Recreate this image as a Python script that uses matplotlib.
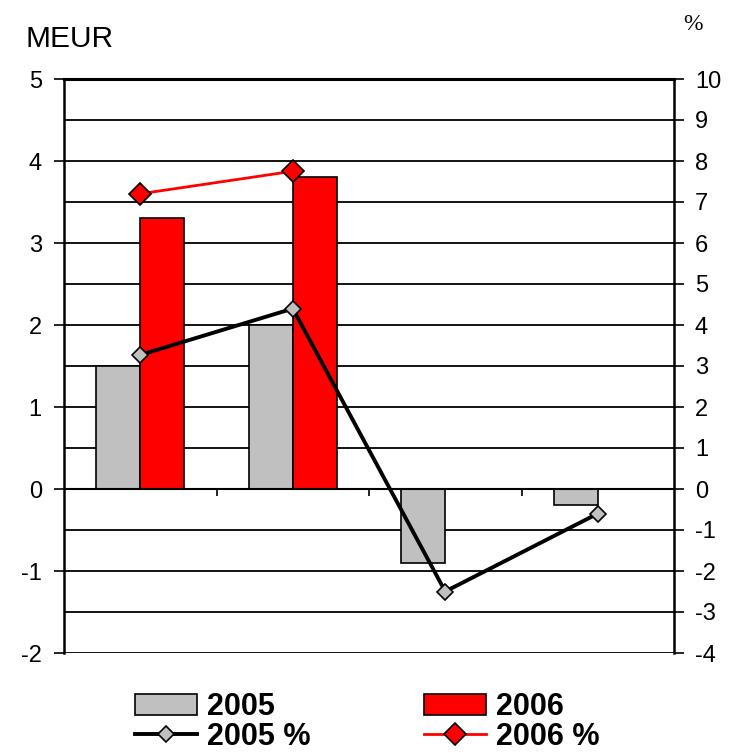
import matplotlib
matplotlib.use("Agg")
import matplotlib.pyplot as plt
import numpy as np

plt.rcParams['font.family'] = ['Liberation Sans', 'DejaVu Sans']
plt.rcParams['axes.unicode_minus'] = False

categories = ["Q1", "Q2", "Q3", "Q4"]
meur_2005 = [1.5, 2.0, -0.9, -0.2]
meur_2006 = [3.3, 3.8, 0.0, 0.0]
pct_2005 = [3.27, 4.4, -2.5, -0.6]
pct_2006 = [7.2, 7.75]
left_ticks = [5, 4, 3, 2, 1, 0, -1, -2]
right_ticks = [10, 9, 8, 7, 6, 5, 4, 3, 2, 1, 0, -1, -2, -3, -4]

fig = plt.figure(figsize=(7.39, 7.53), dpi=100)
ax = fig.add_axes([64/739, 1-653/753, (674-64)/739, (653-79)/753])
ax2 = ax.twinx()

x = np.arange(len(categories))
w = 0.29
ax.bar(x - w/2, meur_2005, width=w, color='#c0c0c0', edgecolor='black', linewidth=1.2, zorder=2, label='2005')
ax.bar(x + w/2, meur_2006, width=w, color='#ff0000', edgecolor='black', linewidth=1.2, zorder=2, label='2006')

ax.set_xlim(-0.5, len(categories) - 0.5)
ax.set_ylim(-2, 5)
ax.set_yticks(left_ticks)
ax.set_yticks(np.arange(-2, 5.01, 0.5), minor=True)
ax.yaxis.grid(True, which='both', color='black', linewidth=1.3)
ax.set_axisbelow(True)
ax.tick_params(axis='y', which='major', direction='out', length=7, width=1.2, labelsize=17, pad=9)
ax.tick_params(axis='y', which='minor', length=0)

ax.spines['bottom'].set_position(('data', 0))
ax.spines['bottom'].set_linewidth(1.5)
ax.set_xticks(np.arange(0.5, len(categories) - 0.5, 1))
ax.set_xticklabels([])
ax.tick_params(axis='x', direction='out', length=5, width=1.2)
ax.spines['top'].set_linewidth(2.2)
ax.spines['left'].set_linewidth(1.8)
ax.spines['right'].set_visible(False)

ax2.set_ylim(-4, 10)
ax2.set_yticks(right_ticks)
ax2.tick_params(axis='y', direction='out', length=7, width=1.2, labelsize=17, pad=8)
for s in ['top', 'bottom', 'left']:
    ax2.spines[s].set_visible(False)
ax2.spines['right'].set_linewidth(1.8)

l1, = ax2.plot(x, pct_2005, color='black', linewidth=2.8, marker='D', markersize=8.5,
               markerfacecolor='#c0c0c0', markeredgecolor='black', markeredgewidth=1.2,
               zorder=3, label='2005 %')
l2, = ax2.plot(x[:len(pct_2006)], pct_2006, color='#ff0000', linewidth=2.0, marker='D', markersize=11,
               markerfacecolor='#ff0000', markeredgecolor='black', markeredgewidth=1.2,
               zorder=3, label='2006 %')

fig.text(25/739, 1-47/753, 'MEUR', fontsize=21.5, ha='left', va='baseline')
fig.text(693/739, 1-30/753, '%', fontsize=17, ha='center', va='baseline', family=['Liberation Serif'])

h, lab = ax.get_legend_handles_labels()
handles = [h[0], l1, h[1], l2]
labels = ['2005', '2005 %', '2006', '2006 %']
fig.legend(handles, labels, ncol=2, loc='upper left', bbox_to_anchor=(135/739, 1-692/753),
           frameon=False, prop={'weight': 'bold', 'size': 22}, handlelength=2.03,
           handletextpad=0.33, columnspacing=3.7, labelspacing=0.0, borderpad=0, borderaxespad=0)

fig.savefig('out.png', dpi=100)
